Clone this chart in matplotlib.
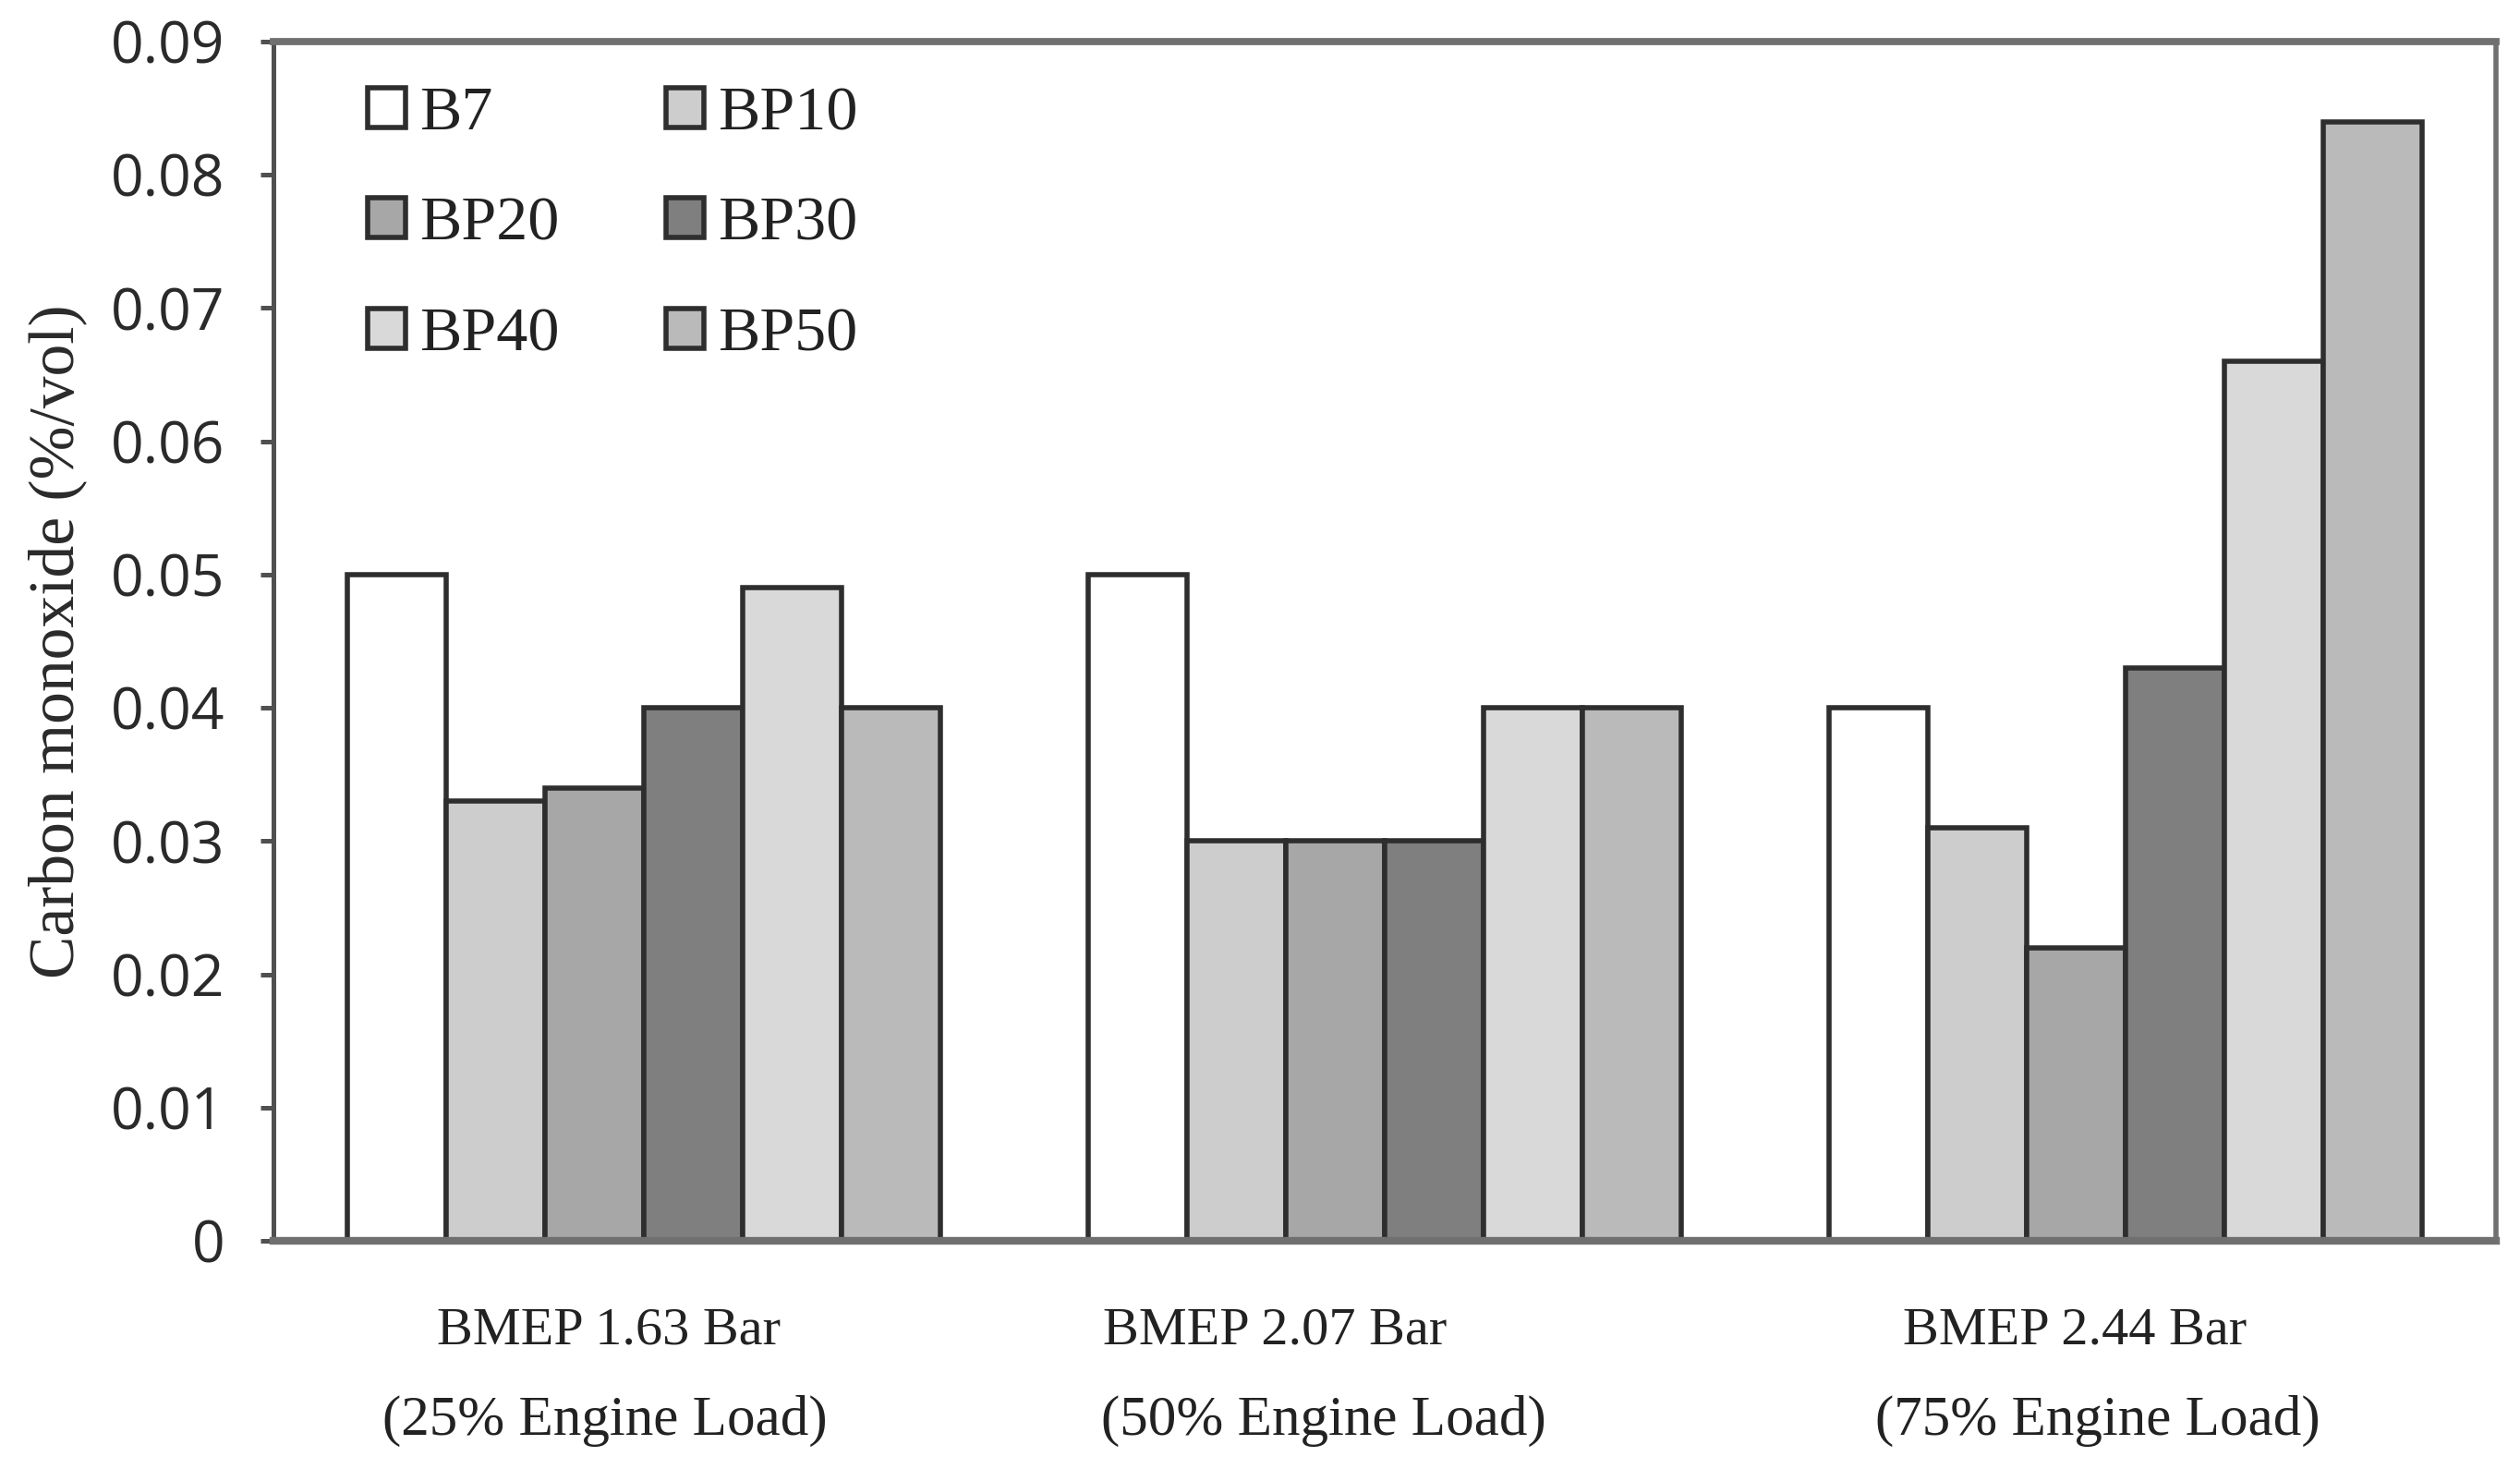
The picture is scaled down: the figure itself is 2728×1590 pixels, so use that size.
import numpy as np
import matplotlib
matplotlib.use("Agg")
import matplotlib.pyplot as plt

# look of the figure
plt.rcParams['font.family'] = 'Liberation Serif'
plt.rcParams['ytick.direction'] = 'out'
plt.rcParams['ytick.major.size'] = 5
plt.rcParams['ytick.major.width'] = 1.8
plt.rcParams['ytick.major.pad'] = 14

# data
loads_line1 = ["BMEP 1.63 Bar", "BMEP 2.07 Bar", "BMEP 2.44 Bar"]
loads_line2 = ["(25% Engine Load)", "(50% Engine Load)", "(75% Engine Load)"]
fuels = ["B7", "BP10", "BP20", "BP30", "BP40", "BP50"]
b7 = [0.050, 0.050, 0.040]
bp10 = [0.033, 0.030, 0.031]
bp20 = [0.034, 0.030, 0.022]
bp30 = [0.040, 0.030, 0.043]
bp40 = [0.049, 0.040, 0.066]
bp50 = [0.040, 0.040, 0.084]
yticks = [0, 0.01, 0.02, 0.03, 0.04, 0.05, 0.06, 0.07, 0.08, 0.09]
ytick_labels = ["0", "0.01", "0.02", "0.03", "0.04", "0.05", "0.06", "0.07", "0.08", "0.09"]

series = [b7, bp10, bp20, bp30, bp40, bp50]
colors = ["#ffffff", "#cdcdcd", "#a7a7a7", "#7f7f7f", "#d9d9d9", "#bababa"]

fig = plt.figure(figsize=(13.64, 7.95), dpi=200)
ax = fig.add_axes([0.1085, 0.1553, 0.882, 0.8164])

x = np.arange(len(loads_line1))
w = 0.8 / len(fuels)
bars = []
for k, vals in enumerate(series):
    b = ax.bar(x - 0.4 + w * (k + 0.5), vals, width=w, color=colors[k],
               edgecolor="#2e2e2e", linewidth=2.0, label=fuels[k], zorder=2)
    bars.append(b)

ax.set_xlim(-0.5, 2.5)
ax.set_ylim(0, 0.09)
ax.set_yticks(yticks)
ax.set_yticklabels(ytick_labels, family="Open Sans", fontsize=22.5, color="#2a2a2a")
ax.set_xticks([])

for s in ["top", "bottom", "right"]:
    ax.spines[s].set_color("#707070")
ax.spines["top"].set_linewidth(2.8)
ax.spines["bottom"].set_linewidth(3.0)
ax.spines["right"].set_linewidth(2.0)
ax.spines["left"].set_color("#505050")
ax.spines["left"].set_linewidth(1.8)
ax.tick_params(axis="y", colors="#505050", labelcolor="#2a2a2a")

ax.set_ylabel("Carbon monoxide (%/vol)", fontsize=25, color="#2a2a2a")
ax.yaxis.set_label_coords(-0.084, 0.5)

# category labels below the axis
xoff = [-0.048, 0.852, 1.931]
xoff2 = [-0.052, 0.918, 1.962]
for i in range(len(loads_line1)):
    ax.text(xoff[i], -0.0747, loads_line1[i], transform=ax.get_xaxis_transform(),
            ha="center", va="center", fontsize=21, color="#222222")
    ax.text(xoff2[i], -0.150, loads_line2[i], transform=ax.get_xaxis_transform(),
            ha="center", va="center", fontsize=22, color="#222222")

# legend row by row
order = [0, 2, 4, 1, 3, 5]
handles = [bars[i] for i in order]
labels = [fuels[i] for i in order]
ax.legend(handles, labels, ncol=2, loc="upper left", bbox_to_anchor=(0.017, 1.01),
          frameon=False, fontsize=24.5, handlelength=0.6, handleheight=0.6,
          handletextpad=0.22, columnspacing=1.7, labelspacing=0.86,
          labelcolor="#222222")

fig.savefig("out.png", dpi=200)
